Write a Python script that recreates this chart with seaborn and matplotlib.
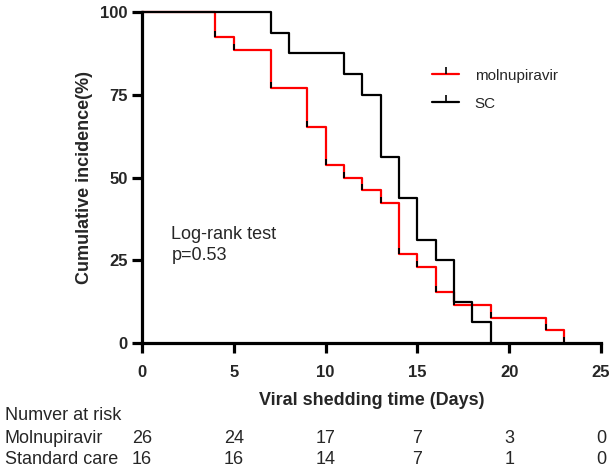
import matplotlib
matplotlib.use("Agg")
import matplotlib.pyplot as plt
from matplotlib.lines import Line2D
import matplotlib.transforms as mtransforms
import numpy as np
import pandas as pd
import seaborn as sns

# ---- data ----
groups = ["molnupiravir", "SC"]
molnu_time = [0, 4, 5, 7, 9, 10, 11, 12, 13, 14, 15, 16, 17, 19, 22, 23]
molnu_surv = [100, 92.3, 88.5, 76.9, 65.4, 53.8, 50.0, 46.2, 42.3, 26.9, 23.1, 15.4, 11.5, 7.7, 3.8, 0]
sc_time = [0, 7, 8, 11, 12, 13, 14, 15, 16, 17, 18, 19]
sc_surv = [100, 93.75, 87.5, 81.25, 75, 56.25, 43.75, 31.25, 25, 12.5, 6.25, 0]
colors = {"molnupiravir": "#ff0000", "SC": "#000000"}

risk_days = [0, 5, 10, 15, 20, 25]
risk_rows = ["Molnupiravir", "Standard care"]
risk_molnu = [26, 24, 17, 7, 3, 0]
risk_sc = [16, 16, 14, 7, 1, 0]

xticks = [0, 5, 10, 15, 20, 25]
yticks = [0, 25, 50, 75, 100]

df = pd.concat([
    pd.DataFrame({"time": molnu_time, "surv": molnu_surv, "group": "molnupiravir"}),
    pd.DataFrame({"time": sc_time, "surv": sc_surv, "group": "SC"}),
])

sns.set_style("ticks")
plt.rcParams["font.family"] = ["Liberation Sans", "DejaVu Sans"]

W, H = 613, 467
fig = plt.figure(figsize=(W/100, H/100), dpi=100)
ax = fig.add_axes([142/W, 1-343/H, (601-142)/W, (343-12)/H])

sns.lineplot(data=df, x="time", y="surv", hue="group", hue_order=groups,
             palette=colors, drawstyle="steps-post", estimator=None,
             linewidth=1.6, ax=ax, legend=False)
for ln in ax.lines:
    ln.set_clip_on(False)

# censor-like tick marks at step corners
for t, s in [(molnu_time, molnu_surv), (sc_time, sc_surv)]:
    ax.plot(t[1:], s[1:], ls="none", marker=2, markersize=4, mew=1.4,
            color="black", clip_on=False)

ax.set_xlim(0, 25)
ax.set_ylim(0, 100)
ax.set_xticks(xticks)
ax.set_yticks(yticks)
for lab in ax.get_xticklabels() + ax.get_yticklabels():
    lab.set_fontweight("bold")
    lab.set_fontsize(12)
ax.tick_params(axis="both", direction="out", length=7.5, width=2.3, color="black")
ax.tick_params(axis="x", pad=8)
ax.tick_params(axis="y", pad=3)
for sp in ["top", "right"]:
    ax.spines[sp].set_visible(False)
for sp in ["left", "bottom"]:
    ax.spines[sp].set_linewidth(2.3)
    ax.spines[sp].set_color("black")

ax.set_xlabel("Viral shedding time (Days)", fontsize=13, fontweight="bold", labelpad=9)
ax.set_ylabel("Cumulative incidence(%)", fontsize=13, fontweight="bold", labelpad=5)

ax.text(1.6, 29.5, "Log-rank test\np=0.53", fontsize=13, va="center", ha="left",
        linespacing=1.3)

handles = [Line2D([0], [0], color=colors[g], lw=1.6, marker=2, markersize=5,
                  mec="black", mew=1.2) for g in groups]
fig.legend(handles, groups, loc="upper left", bbox_to_anchor=(0.682, 1-55/H),
           frameon=False, fontsize=11, handlelength=1.8, handletextpad=1.0,
           labelspacing=0.9)

# number at risk table
trans = mtransforms.blended_transform_factory(ax.transData, fig.transFigure)
fig.text(5/W, 1-420/H, "Numver at risk", fontsize=13, va="baseline", ha="left")
for row, vals, yp in [(risk_rows[0], risk_molnu, 443), (risk_rows[1], risk_sc, 464)]:
    fig.text(5/W, 1-yp/H, row, fontsize=13, va="baseline", ha="left")
    for d, v in zip(risk_days, vals):
        ax.text(d, 1-yp/H, str(v), transform=trans, fontsize=13,
                va="baseline", ha="center")

fig.savefig("out.png", dpi=100)
